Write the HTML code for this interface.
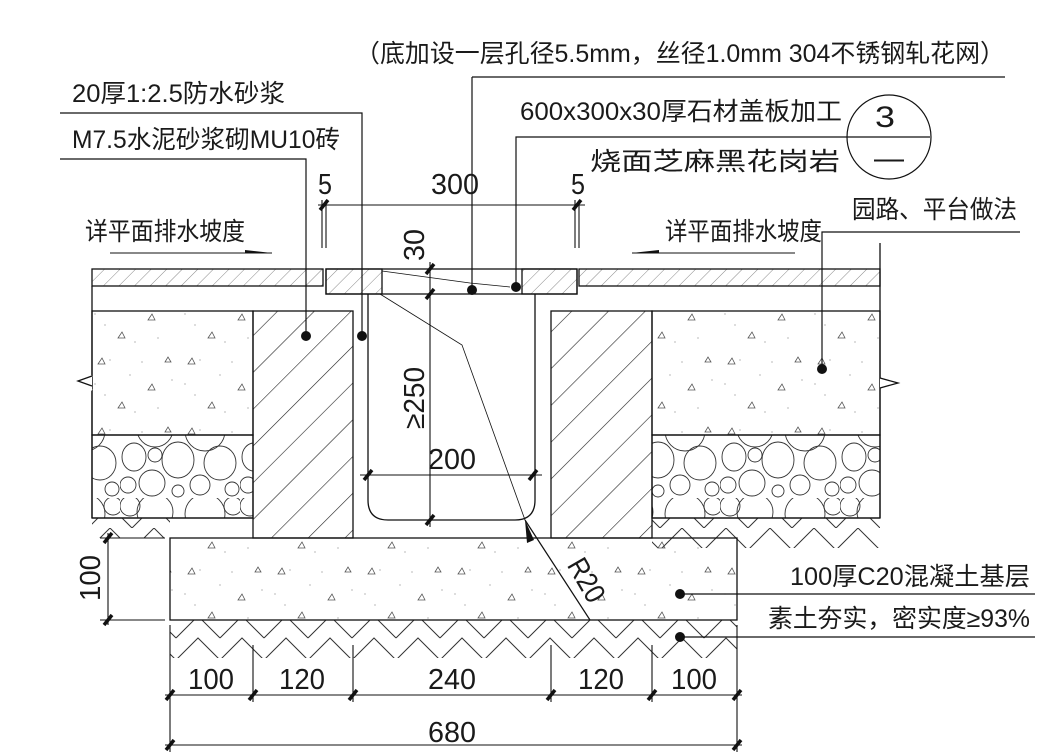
<!DOCTYPE html>
<html><head><meta charset="utf-8"><style>
html,body{margin:0;padding:0;background:#fff;}
svg{display:block;}
text{font-family:"Liberation Sans","Noto Sans CJK SC",sans-serif;fill:#1a1a1a;}
</style></head><body>
<svg width="1053" height="752" viewBox="0 0 1053 752" xmlns="http://www.w3.org/2000/svg">
<defs>
<pattern id="wall" width="26" height="26" patternUnits="userSpaceOnUse" patternTransform="rotate(45)">
<line x1="0" y1="0" x2="0" y2="26" stroke="#222" stroke-width="1.2"/></pattern>
<pattern id="pave" width="11" height="11" patternUnits="userSpaceOnUse" patternTransform="rotate(45)">
<line x1="0" y1="0" x2="0" y2="11" stroke="#555" stroke-width="0.7"/></pattern>
<pattern id="conc" width="90" height="70" patternUnits="userSpaceOnUse">
<path d="M8 14 l4 -6 l3 6z M58 40 l4 -6 l3 6z M28 58 l4 -6 l3 6z M75 12 l3 -5 l3 5z" fill="none" stroke="#555" stroke-width="0.8"/>
<g fill="#888"><circle cx="20" cy="10" r="0.6"/><circle cx="40" cy="25" r="0.6"/><circle cx="5" cy="34" r="0.6"/><circle cx="68" cy="58" r="0.6"/><circle cx="15" cy="45" r="0.6"/><circle cx="82" cy="30" r="0.6"/><circle cx="45" cy="62" r="0.6"/><circle cx="52" cy="12" r="0.6"/></g></pattern>
<pattern id="grav" width="120" height="83" patternUnits="userSpaceOnUse">
<g fill="none" stroke="#333" stroke-width="0.9">
<circle cx="35" cy="14" r="18"/><circle cx="10" cy="8" r="10"/><circle cx="85" cy="16" r="20"/><circle cx="113" cy="8" r="9"/>
<ellipse cx="14" cy="42" rx="12" ry="14"/><ellipse cx="58" cy="45" rx="16" ry="18"/><circle cx="35" cy="40" r="7"/><ellipse cx="100" cy="48" rx="16" ry="17"/>
<ellipse cx="32" cy="68" rx="13" ry="13"/><circle cx="8" cy="70" r="8"/><circle cx="80" cy="70" r="10"/><circle cx="58" cy="76" r="6"/><circle cx="112" cy="74" r="7"/></g></pattern>
<pattern id="earth" width="44" height="44" patternUnits="userSpaceOnUse">
<path d="M0 44 L22 22 L44 44 M0 22 L22 0 L44 22" fill="none" stroke="#333" stroke-width="1"/></pattern>
</defs>
<g stroke="#111" fill="none" stroke-width="1.3">
<rect x="92" y="269" width="231" height="17" fill="url(#pave)"/>
<rect x="579" y="269" width="301" height="17" fill="url(#pave)"/>
<line x1="92" y1="286" x2="92" y2="518"/>
<line x1="880" y1="243" x2="880" y2="518"/>
<rect x="326" y="269" width="251" height="25"/>
<rect x="326" y="269" width="56" height="25" fill="url(#pave)"/>
<rect x="522" y="269" width="55" height="25" fill="url(#pave)"/>
<rect x="92" y="311" width="161" height="124" fill="url(#conc)"/>
<rect x="652" y="311" width="228" height="124" fill="url(#conc)"/>
<rect x="92" y="435" width="161" height="83" fill="url(#grav)"/>
<rect x="652" y="435" width="228" height="83" fill="url(#grav)"/>
<rect x="92" y="518" width="78" height="20" fill="url(#earth)" stroke="none"/>
<rect x="652" y="518" width="228" height="30" fill="url(#earth)" stroke="none"/>
<line x1="92" y1="518" x2="253" y2="518"/><line x1="652" y1="518" x2="880" y2="518"/>
<rect x="253" y="311" width="100" height="227" fill="url(#wall)"/>
<rect x="551" y="311" width="101" height="227" fill="url(#wall)"/>
<path d="M368 294 V500 Q368 520 388 520 H515 Q535 520 535 500 V294"/>
<rect x="170" y="620" width="567" height="38" fill="url(#earth)" stroke="none"/>
<rect x="170" y="538" width="567" height="82" fill="url(#conc)" stroke="#111"/>
<path d="M92 376 L76 383 L92 390" fill="#fff" stroke="#fff" stroke-width="2"/>
<path d="M92 376 L78 381 L92 386" />
<path d="M880 378 L898 383 L880 388" fill="#fff"/>
</g>
<g stroke="#111" stroke-width="1.2" fill="none">
<polyline points="60,113 362,113 362,336"/>
<polyline points="60,159 306,159 306,336"/>
<polyline points="472,77 1005,77"/><line x1="472" y1="77" x2="472" y2="290"/>
<polyline points="930,137 516,137 516,287"/>
<polyline points="1020,232 822,232 822,369"/>
<polyline points="680,594 1035,594"/>
<polyline points="680,637 1035,637"/>
<polyline points="380,294 462,345 525,520" stroke-width="0.8"/>
<polyline points="382,271 470,283 510,287" stroke-width="0.8"/>
<line x1="525" y1="520" x2="590" y2="620"/>
<circle cx="889" cy="137" r="42"/>
</g>
<g fill="#111">
<circle cx="362" cy="336" r="5"/><circle cx="306" cy="336" r="5"/><circle cx="472" cy="290" r="5"/><circle cx="516" cy="287" r="5"/>
<circle cx="822" cy="369" r="5"/><circle cx="680" cy="594" r="5"/><circle cx="680" cy="637" r="5"/>
<path d="M525 520 L534 540 L527 543z"/>
<path d="M272 253 L245 250 L245 253z"/>
<path d="M632 253 L659 250 L659 253z"/>
</g>
<g stroke="#111" stroke-width="1.1">
<line x1="110" y1="253" x2="272" y2="253"/><line x1="632" y1="253" x2="795" y2="253"/>
<line x1="318" y1="205" x2="585" y2="205"/>
<line x1="322" y1="200" x2="322" y2="248"/><line x1="326" y1="200" x2="326" y2="248"/>
<line x1="575" y1="200" x2="575" y2="248"/><line x1="579" y1="200" x2="579" y2="248"/>
<line x1="430" y1="262" x2="430" y2="527"/>
<line x1="360" y1="475" x2="542" y2="475"/>
<line x1="108" y1="533" x2="108" y2="625"/>
<line x1="100" y1="538" x2="165" y2="538"/><line x1="100" y1="620" x2="165" y2="620"/>
<line x1="165" y1="695" x2="742" y2="695"/>
<line x1="165" y1="745" x2="742" y2="745"/>
<line x1="170" y1="625" x2="170" y2="752"/><line x1="737" y1="625" x2="737" y2="752"/>
<line x1="253" y1="645" x2="253" y2="702"/><line x1="353" y1="645" x2="353" y2="702"/>
<line x1="551" y1="645" x2="551" y2="702"/><line x1="652" y1="645" x2="652" y2="702"/>
</g>
<g stroke="#111" stroke-width="3.5">
<line x1="320" y1="210" x2="328" y2="200"/><line x1="573" y1="210" x2="581" y2="200"/>
<line x1="426" y1="274" x2="434" y2="264"/><line x1="426" y1="299" x2="434" y2="289"/><line x1="426" y1="525" x2="434" y2="515"/>
<line x1="364" y1="480" x2="372" y2="470"/><line x1="529" y1="480" x2="537" y2="470"/>
<line x1="104" y1="543" x2="112" y2="533"/><line x1="104" y1="625" x2="112" y2="615"/>
<line x1="166" y1="700" x2="174" y2="690"/><line x1="249" y1="700" x2="257" y2="690"/><line x1="349" y1="700" x2="357" y2="690"/>
<line x1="547" y1="700" x2="555" y2="690"/><line x1="648" y1="700" x2="656" y2="690"/><line x1="733" y1="700" x2="741" y2="690"/>
<line x1="166" y1="750" x2="174" y2="740"/><line x1="733" y1="750" x2="741" y2="740"/>
</g>
<g font-size="25">
<text x="355" y="62" textLength="650" lengthAdjust="spacingAndGlyphs">（底加设一层孔径5.5mm，丝径1.0mm 304不锈钢轧花网）</text>
<text x="72" y="102" textLength="213" lengthAdjust="spacingAndGlyphs">20厚1:2.5防水砂浆</text>
<text x="72" y="148" textLength="268" lengthAdjust="spacingAndGlyphs">M7.5水泥砂浆砌MU10砖</text>
<text x="520" y="120" textLength="322" lengthAdjust="spacingAndGlyphs">600x300x30厚石材盖板加工</text>
<text x="590" y="170" textLength="250" lengthAdjust="spacingAndGlyphs">烧面芝麻黑花岗岩</text>
<text x="885" y="127" text-anchor="middle" font-size="30" textLength="20" lengthAdjust="spacingAndGlyphs">3</text>
<text x="889" y="168" text-anchor="middle" font-size="30">—</text>
<text x="85" y="240" textLength="160" lengthAdjust="spacingAndGlyphs">详平面排水坡度</text>
<text x="665" y="240" textLength="157" lengthAdjust="spacingAndGlyphs">详平面排水坡度</text>
<text x="852" y="218" textLength="165" lengthAdjust="spacingAndGlyphs">园路、平台做法</text>
<text x="790" y="585" textLength="240" lengthAdjust="spacingAndGlyphs">100厚C20混凝土基层</text>
<text x="768" y="627" textLength="262" lengthAdjust="spacingAndGlyphs">素土夯实，密实度≥93%</text>
<g font-size="29">
<text x="325" y="194" text-anchor="middle" textLength="14" lengthAdjust="spacingAndGlyphs">5</text>
<text x="455" y="194" text-anchor="middle" textLength="48" lengthAdjust="spacingAndGlyphs">300</text>
<text x="578" y="194" text-anchor="middle" textLength="14" lengthAdjust="spacingAndGlyphs">5</text>
<text x="452" y="469" text-anchor="middle" textLength="48" lengthAdjust="spacingAndGlyphs">200</text>
<text x="211" y="689" text-anchor="middle" textLength="46" lengthAdjust="spacingAndGlyphs">100</text>
<text x="302" y="689" text-anchor="middle" textLength="46" lengthAdjust="spacingAndGlyphs">120</text>
<text x="452" y="689" text-anchor="middle" textLength="48" lengthAdjust="spacingAndGlyphs">240</text>
<text x="601" y="689" text-anchor="middle" textLength="46" lengthAdjust="spacingAndGlyphs">120</text>
<text x="694" y="689" text-anchor="middle" textLength="46" lengthAdjust="spacingAndGlyphs">100</text>
<text x="452" y="742" text-anchor="middle" textLength="48" lengthAdjust="spacingAndGlyphs">680</text>
<text transform="translate(424,245) rotate(-90)" text-anchor="middle" textLength="32" lengthAdjust="spacingAndGlyphs">30</text>
<text transform="translate(424,398) rotate(-90)" text-anchor="middle" textLength="62" lengthAdjust="spacingAndGlyphs">≥250</text>
<text transform="translate(100,578) rotate(-90)" text-anchor="middle" textLength="46" lengthAdjust="spacingAndGlyphs">100</text>
<text transform="translate(578,585) rotate(60)" text-anchor="middle" textLength="46" lengthAdjust="spacingAndGlyphs">R20</text>
</g>
</g>
</svg>
</body></html>
